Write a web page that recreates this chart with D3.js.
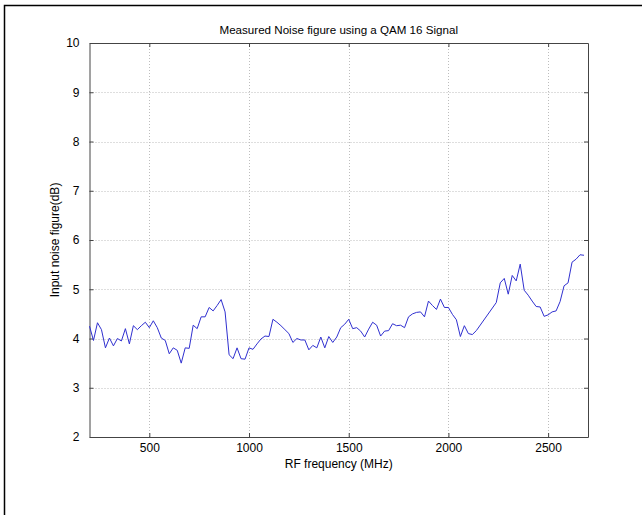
<!DOCTYPE html>
<html>
<head>
<meta charset="utf-8">
<script src="https://cdn.jsdelivr.net/npm/d3@7"></script>
<style>
  body { margin: 0; background: #fff; }
  svg { display: block; font-family: "Liberation Sans", Arial, sans-serif; }
</style>
</head>
<body>
<svg id="chart" width="642" height="515"></svg>
<script>
const FREQ_MHZ = [
  200, 220, 240, 260, 280, 300, 320, 340, 360, 380, 400, 420, 440, 460, 480,
  500, 520, 540, 560, 580, 600, 620, 640, 660, 680, 700, 720, 740, 760, 780,
  800, 820, 840, 860, 880, 900, 920, 940, 960, 980, 1000, 1020, 1040, 1060, 1080,
  1100, 1120, 1140, 1160, 1180, 1200, 1220, 1240, 1260, 1280, 1300, 1320, 1340, 1360, 1380,
  1400, 1420, 1440, 1460, 1480, 1500, 1520, 1540, 1560, 1580, 1600, 1620, 1640, 1660, 1680,
  1700, 1720, 1740, 1760, 1780, 1800, 1820, 1840, 1860, 1880, 1900, 1920, 1940, 1960, 1980,
  2000, 2020, 2040, 2060, 2080, 2100, 2120, 2140, 2240, 2260, 2280, 2300, 2320, 2340, 2360,
  2380, 2400, 2420, 2440, 2460, 2480, 2500, 2520, 2540, 2560, 2580, 2600, 2620, 2640, 2660, 2680
];

const NOISE_DB = [
  4.25, 3.96, 4.32, 4.18, 3.81, 4.01, 3.85, 4.0, 3.95, 4.2, 3.89, 4.26, 4.18, 4.26, 4.33,
  4.22, 4.36, 4.22, 4.01, 3.96, 3.69, 3.81, 3.76, 3.5, 3.81, 3.8, 4.27, 4.2, 4.44, 4.44,
  4.63, 4.56, 4.67, 4.79, 4.54, 3.67, 3.59, 3.81, 3.59, 3.58, 3.81, 3.78, 3.89, 3.99, 4.05,
  4.04, 4.39, 4.33, 4.26, 4.18, 4.1, 3.92, 4.0, 3.97, 3.97, 3.77, 3.86, 3.81, 4.03, 3.81,
  4.04, 3.92, 4.03, 4.22, 4.29, 4.39, 4.2, 4.22, 4.15, 4.03, 4.19, 4.33, 4.27, 4.05, 4.15,
  4.16, 4.3, 4.26, 4.27, 4.22, 4.44, 4.5, 4.53, 4.54, 4.44, 4.76, 4.67, 4.59, 4.8, 4.63,
  4.63, 4.49, 4.38, 4.04, 4.26, 4.1, 4.08, 4.16, 4.73, 5.13, 5.22, 4.9, 5.28, 5.17, 5.51,
  4.98, 4.88, 4.76, 4.65, 4.64, 4.45, 4.48, 4.54, 4.56, 4.75, 5.07, 5.13, 5.55, 5.61, 5.7, 5.69
];

const X_TICKS = [500, 1000, 1500, 2000, 2500];
const Y_TICKS = [2, 3, 4, 5, 6, 7, 8, 9, 10];

const svg = d3.select("#chart");
const plot = { left: 89.5, right: 588, top: 43, bottom: 437 };

// figure frame (only the top and left edges fall inside the picture)
svg.append("rect")
  .attr("x", 4.5).attr("y", 5.5)
  .attr("width", 700).attr("height", 600)
  .attr("fill", "#fff")
  .attr("stroke", "#000")
  .attr("stroke-width", 1.5);

const x = d3.scaleLinear().domain([200, 2700]).range([plot.left, plot.right]);
const y = d3.scaleLinear().domain([2, 10]).range([plot.bottom, plot.top]);

// grid
const grid = svg.append("g")
  .attr("stroke", "#bdbdbd")
  .attr("stroke-width", 1)
  .attr("stroke-dasharray", "1,2");
grid.selectAll(".gx").data(X_TICKS).enter().append("line")
  .attr("x1", (d) => Math.round(x(d)) + 0.5).attr("x2", (d) => Math.round(x(d)) + 0.5)
  .attr("y1", plot.top).attr("y2", plot.bottom);
grid.selectAll(".gy").data(Y_TICKS.slice(1, -1)).enter().append("line")
  .attr("x1", plot.left).attr("x2", plot.right)
  .attr("y1", (d) => Math.round(y(d)) + 0.5).attr("y2", (d) => Math.round(y(d)) + 0.5);

// axes, ticks pointing inwards, MATLAB style
const tickLen = 4;
const axisColor = "#444";
const fmt = d3.format("d");

const xBottom = svg.append("g")
  .attr("transform", `translate(0,${plot.bottom})`)
  .call(d3.axisBottom(x).tickValues(X_TICKS).tickFormat(fmt)
    .tickSizeInner(-tickLen).tickSizeOuter(0).tickPadding(6));
const xTop = svg.append("g")
  .attr("transform", `translate(0,${plot.top})`)
  .call(d3.axisTop(x).tickValues(X_TICKS).tickSizeInner(-tickLen).tickSizeOuter(0).tickFormat(""));
const yLeft = svg.append("g")
  .attr("transform", `translate(${plot.left},0)`)
  .call(d3.axisLeft(y).tickValues(Y_TICKS).tickFormat(fmt)
    .tickSizeInner(-tickLen).tickSizeOuter(0).tickPadding(10));
const yRight = svg.append("g")
  .attr("transform", `translate(${plot.right},0)`)
  .call(d3.axisRight(y).tickValues(Y_TICKS).tickSizeInner(-tickLen).tickSizeOuter(0).tickFormat(""));

[xBottom, xTop, yLeft, yRight].forEach((g) => {
  g.selectAll("path, line").attr("stroke", axisColor);
  g.selectAll("text")
    .attr("fill", "#000")
    .style("font-size", "12px")
    .style("font-family", "'Liberation Sans', Arial, sans-serif");
});

// series
const line = d3.line()
  .x((d, i) => x(FREQ_MHZ[i]))
  .y((d) => y(d));

svg.append("path")
  .datum(NOISE_DB)
  .attr("fill", "none")
  .attr("stroke", "#3030d0")
  .attr("stroke-width", 1)
  .attr("d", line);

// titles
svg.append("text")
  .attr("x", (plot.left + plot.right) / 2)
  .attr("y", 34)
  .attr("text-anchor", "middle")
  .style("font-size", "11.6px")
  .text("Measured Noise figure using a QAM 16 Signal");

svg.append("text")
  .attr("x", (plot.left + plot.right) / 2)
  .attr("y", 468)
  .attr("text-anchor", "middle")
  .style("font-size", "12px")
  .text("RF frequency (MHz)");

svg.append("text")
  .attr("transform", `translate(59,${(plot.top + plot.bottom) / 2}) rotate(-90)`)
  .attr("text-anchor", "middle")
  .style("font-size", "12px")
  .text("Input noise figure(dB)");
</script>
</body>
</html>
